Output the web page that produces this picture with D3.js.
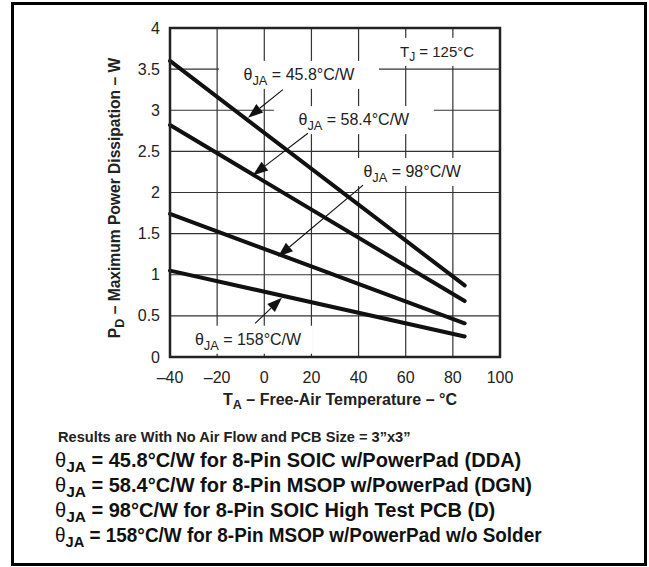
<!DOCTYPE html>
<html><head><meta charset="utf-8">
<script src="https://cdn.jsdelivr.net/npm/d3@7"></script>
<style>
html,body{margin:0;padding:0;background:#fff;}
svg{display:block;font-family:"Liberation Sans",Arial,Helvetica,sans-serif;}
</style></head>
<body>
<svg id="c" width="649" height="567"></svg>
<script>
// ---- data ----
const tempA = [-40, 85];
const pd_45_8 = [3.60, 0.87];
const pd_58_4 = [2.82, 0.68];
const pd_98   = [1.74, 0.41];
const pd_158  = [1.05, 0.25];
const seriesNames = ["45.8", "58.4", "98", "158"];
const xTicks = [-40, -20, 0, 20, 40, 60, 80, 100];
const yTicks = [0, 0.5, 1, 1.5, 2, 2.5, 3, 3.5, 4];
// annotation anchors in data units [T, P]
const labelPos = [[14.7, 3.43], [38, 2.88], [62.7, 2.25], [-6.9, 0.21]];
const arrowFrom = [[7.9, 3.25], [18.5, 2.72], [41.9, 2.09], [-3.9, 0.41]];
const arrowTo   = [[-6.9, 2.91], [-4.8, 2.21], [5.8, 1.22], [7.5, 0.72]];
const tjPos = [73.3, 3.71];
const noteLines = [
  ["45.8", "°C/W for 8-Pin SOIC w/PowerPad (DDA)"],
  ["58.4", "°C/W for 8-Pin MSOP w/PowerPad (DGN)"],
  ["98", "°C/W for 8-Pin SOIC High Test PCB (D)"],
  ["158", "°C/W for 8-Pin MSOP w/PowerPad w/o Solder"]
];

const svg = d3.select("#c");
const x = d3.scaleLinear().domain([-40, 100]).range([170, 500]);
const y = d3.scaleLinear().domain([0, 4]).range([357, 28]);

// outer border
svg.append("rect").attr("x", 12.5).attr("y", 3.5).attr("width", 633).attr("height", 561)
  .attr("fill", "none").attr("stroke", "#000").attr("stroke-width", 3);

const g = svg.append("g");
// grid
g.selectAll("line.vg").data(xTicks.slice(1, -1)).join("line")
  .attr("x1", d => x(d)).attr("x2", d => x(d)).attr("y1", y(0)).attr("y2", y(4))
  .attr("stroke", "#333").attr("stroke-width", 1.2);
g.selectAll("line.hg").data(yTicks.slice(1, -1)).join("line")
  .attr("y1", d => y(d)).attr("y2", d => y(d)).attr("x1", x(-40)).attr("x2", x(100))
  .attr("stroke", "#333").attr("stroke-width", 1.2);

// label boxes (white, hide gridlines)
const boxW = [160, 160, 120, 128];
labelPos.forEach((p, i) => {
  g.append("rect").attr("x", x(p[0]) - boxW[i] / 2).attr("y", y(p[1]) - 14)
    .attr("width", boxW[i]).attr("height", 28).attr("fill", "#fff");
});
g.append("rect").attr("x", x(tjPos[0]) - 48).attr("y", y(tjPos[1]) - 14)
  .attr("width", 96).attr("height", 28).attr("fill", "#fff");

// axes ticks labels
g.selectAll("text.yt").data(yTicks).join("text")
  .attr("x", 160).attr("y", d => y(d) + 5.5).attr("text-anchor", "end")
  .attr("font-size", 16).attr("fill", "#222")
  .text(d => d);
g.selectAll("text.xt").data(xTicks).join("text")
  .attr("x", d => x(d)).attr("y", 383).attr("text-anchor", "middle")
  .attr("font-size", 16).attr("fill", "#222")
  .text(d => d < 0 ? "\u2013" + Math.abs(d) : d);

// data lines
const allSeries = [pd_45_8, pd_58_4, pd_98, pd_158];
const line = d3.line().x(d => x(d[0])).y(d => y(d[1]));
g.selectAll("path.s").data(allSeries).join("path")
  .attr("d", s => line(tempA.map((t, i) => [t, s[i]])))
  .attr("fill", "none").attr("stroke", "#111").attr("stroke-width", 4).attr("stroke-linecap", "round");

// arrows
arrowFrom.forEach((a, i) => {
  const x1 = x(a[0]), y1 = y(a[1]), x2 = x(arrowTo[i][0]), y2 = y(arrowTo[i][1]);
  const ang = Math.atan2(y2 - y1, x2 - x1);
  const L = 15, W = 5.5;
  const bx = x2 - L * Math.cos(ang), by = y2 - L * Math.sin(ang);
  g.append("line").attr("x1", x1).attr("y1", y1).attr("x2", bx).attr("y2", by)
    .attr("stroke", "#111").attr("stroke-width", 1.1);
  const px = -Math.sin(ang), py = Math.cos(ang);
  g.append("path").attr("d", `M${x2},${y2}L${bx + W * px},${by + W * py}L${bx - W * px},${by - W * py}Z`)
    .attr("fill", "#111");
});

// labels
function thetaText(sel, value, fs) {
  sel.append("tspan").text("\u03B8");
  sel.append("tspan").attr("font-size", fs * 0.8).attr("dy", fs * 0.3).text("JA");
  sel.append("tspan").attr("dy", -fs * 0.3).text(" = " + value + "\u00B0C/W");
}
labelPos.forEach((p, i) => {
  const t = g.append("text").attr("x", x(p[0])).attr("y", y(p[1]) + 5)
    .attr("text-anchor", "middle").attr("font-size", 16).attr("fill", "#222");
  thetaText(t, seriesNames[i], 16);
});
{
  const t = g.append("text").attr("x", x(tjPos[0])).attr("y", y(tjPos[1]) + 5)
    .attr("text-anchor", "middle").attr("font-size", 15).attr("fill", "#222");
  t.append("tspan").text("T");
  t.append("tspan").attr("font-size", 12).attr("dy", 4).text("J");
  t.append("tspan").attr("dy", -4).text(" = 125\u00B0C");
}

// frame
g.append("rect").attr("x", x(-40)).attr("y", y(4)).attr("width", x(100) - x(-40)).attr("height", y(0) - y(4))
  .attr("fill", "none").attr("stroke", "#222").attr("stroke-width", 2.5);

// axis titles
{
  const t = svg.append("text").attr("x", 340).attr("y", 405).attr("text-anchor", "middle")
    .attr("font-size", 16).attr("font-weight", "bold").attr("fill", "#222");
  t.append("tspan").text("T");
  t.append("tspan").attr("font-size", 12.5).attr("dy", 4).text("A");
  t.append("tspan").attr("dy", -4).text(" \u2013 Free-Air Temperature \u2013 \u00B0C");
}
{
  const t = svg.append("text").attr("transform", "translate(120,198) rotate(-90)").attr("text-anchor", "middle")
    .attr("font-size", 15.6).attr("font-weight", "bold").attr("fill", "#222");
  t.append("tspan").text("P");
  t.append("tspan").attr("font-size", 12.5).attr("dy", 4).text("D");
  t.append("tspan").attr("dy", -4).text(" \u2013 Maximum Power Dissipation \u2013 W");
}

// notes
svg.append("text").attr("x", 58).attr("y", 442).attr("font-size", 14.6).attr("font-weight", "bold")
  .attr("fill", "#222").text("Results are With No Air Flow and PCB Size = 3\u201Dx3\u201D");
const noteEnds = [518, 528, 492, 542];
noteLines.forEach((n, i) => {
  const t = svg.append("text").attr("x", 55).attr("y", 467 + i * 25)
    .attr("font-size", 20).attr("fill", "#111");
  t.append("tspan").attr("font-weight", "normal").text("\u03B8");
  t.append("tspan").attr("font-weight", "bold").attr("font-size", 15.5).attr("dy", 5).text("JA");
  t.append("tspan").attr("font-weight", "bold").attr("dy", -5).text(" = " + n[0] + n[1]);
  const bb = t.node().getBBox();
  const s = (noteEnds[i] - 55) / bb.width;
  if (s < 0.99) {
    t.attr("transform", `translate(55,0) scale(${s},1) translate(-55,0)`);
  }
});
</script>
</body></html>
